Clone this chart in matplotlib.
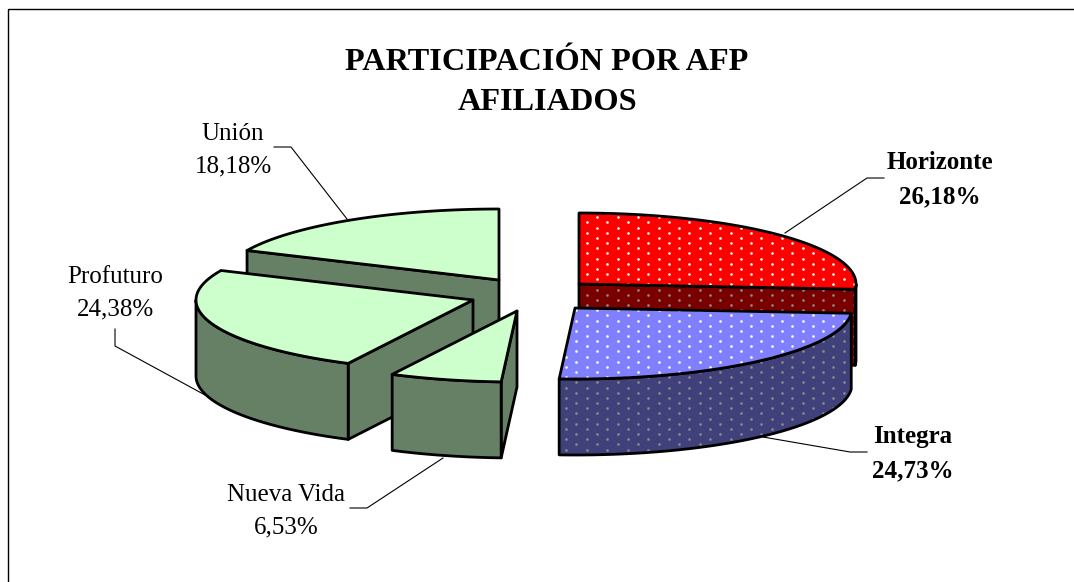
import numpy as np
import matplotlib
matplotlib.use("Agg")
import matplotlib.pyplot as plt
from matplotlib.patches import Polygon, Rectangle

plt.rcParams['font.family'] = ['Liberation Serif', 'DejaVu Serif']

afp = ["Horizonte", "Integra", "Nueva Vida", "Profuturo", "Unión"]
shares = [26.18, 24.73, 6.53, 24.38, 18.18]
title = "PARTICIPACIÓN POR AFP\nAFILIADOS"

# layout, in pixels of the picture
apex = [(579, 284), (575, 308), (517, 311), (473, 300), (499, 280)]
rx, ry, depth = 277, 71, 76
top_col = ["#FF0000", "#8080FF", "#CCFFCC", "#CCFFCC", "#CCFFCC"]
wall_col = ["#7A0000", "#40407A", "#668066", "#668066", "#668066"]
dotted = [True, True, False, False, False]
draw_order = [4, 0, 3, 2, 1]

label_xy = [(940, 203), (913, 477), (286, 533), (115, 315), (233, 172)]
label_bold = [True, True, False, False, False]
leaders = [
    [(884, 178), (867, 178), (785, 233)],
    [(867, 452), (850, 452), (763, 437)],
    [(350, 508), (367, 508), (443, 458)],
    [(115, 329), (115, 346), (205, 395)],
    [(274, 147), (291, 147), (347, 219)],
]

fig = plt.figure(figsize=(10.74, 5.82), dpi=100)
ax = fig.add_axes([0, 0, 1, 1])
ax.set_xlim(0, 1074)
ax.set_ylim(582, 0)
ax.axis("off")

ax.add_patch(Rectangle((8, 9), 1200, 700, fill=False, ec="black", lw=1.0))

gx, gy = np.meshgrid(np.arange(0, 53) * 20.55 + 597 - 20.55 * 2, np.arange(0, 60) * 5.16 + 217.3 - 5.16 * 4)
gx[1::2] -= 10.27


def face(pts, fc, dots=None):
    p = Polygon(pts, closed=True, fc=fc, ec="none")
    ax.add_patch(p)
    if dots is not None:
        sc = ax.scatter(gx.ravel(), gy.ravel(), s=3.6, c=dots, linewidths=0)
        sc.set_clip_path(p)
    ax.add_patch(Polygon(pts, closed=True, fill=False, ec="black", lw=2.0, joinstyle="round"))


def rim(cx, cy, a):
    # a is in degrees, clockwise from 12 o'clock
    a = np.radians(a)
    return np.column_stack([cx + rx * np.sin(a), cy - ry * np.cos(a)])


edges = np.concatenate([[0], np.cumsum(shares)]) * 3.6

for i in draw_order:
    cx, cy = apex[i]
    a1, a2 = edges[i], edges[i + 1]
    down = np.array([0, depth])
    wall_dots = "#8C8C8C" if dotted[i] else None
    top_dots = "white" if dotted[i] else None

    # cut faces that look towards the viewer
    for a, sign in ((a1, -1), (a2, 1)):
        if sign * np.sin(np.radians(a)) > 1e-6:
            e = rim(cx, cy, [a])[0]
            c = np.array([cx, cy])
            face([c, e, e + down, c + down], wall_col[i], wall_dots)

    # outer wall, only the front half of the rim shows
    lo, hi = max(a1, 90), min(a2, 270)
    if hi > lo:
        arc = rim(cx, cy, np.linspace(lo, hi, 80))
        face(np.vstack([arc, arc[::-1] + down]), wall_col[i], wall_dots)

    arc = rim(cx, cy, np.linspace(a1, a2, 120))
    face(np.vstack([[cx, cy], arc]), top_col[i], top_dots)

for i in range(len(afp)):
    xs, ys = zip(*leaders[i])
    ax.plot(xs, ys, color="black", lw=0.8, solid_joinstyle="miter")
    txt = afp[i] + "\n" + f"{shares[i]:.2f}".replace(".", ",") + "%"
    ax.text(label_xy[i][0], label_xy[i][1], txt, ha="center", va="baseline", fontsize=18,
            fontweight="bold" if label_bold[i] else "normal", linespacing=1.6, color="black")

ax.text(547, 109.5, title, ha="center", va="baseline", fontsize=23.2, fontweight="bold", linespacing=1.47)

fig.savefig("out.png", dpi=100)
